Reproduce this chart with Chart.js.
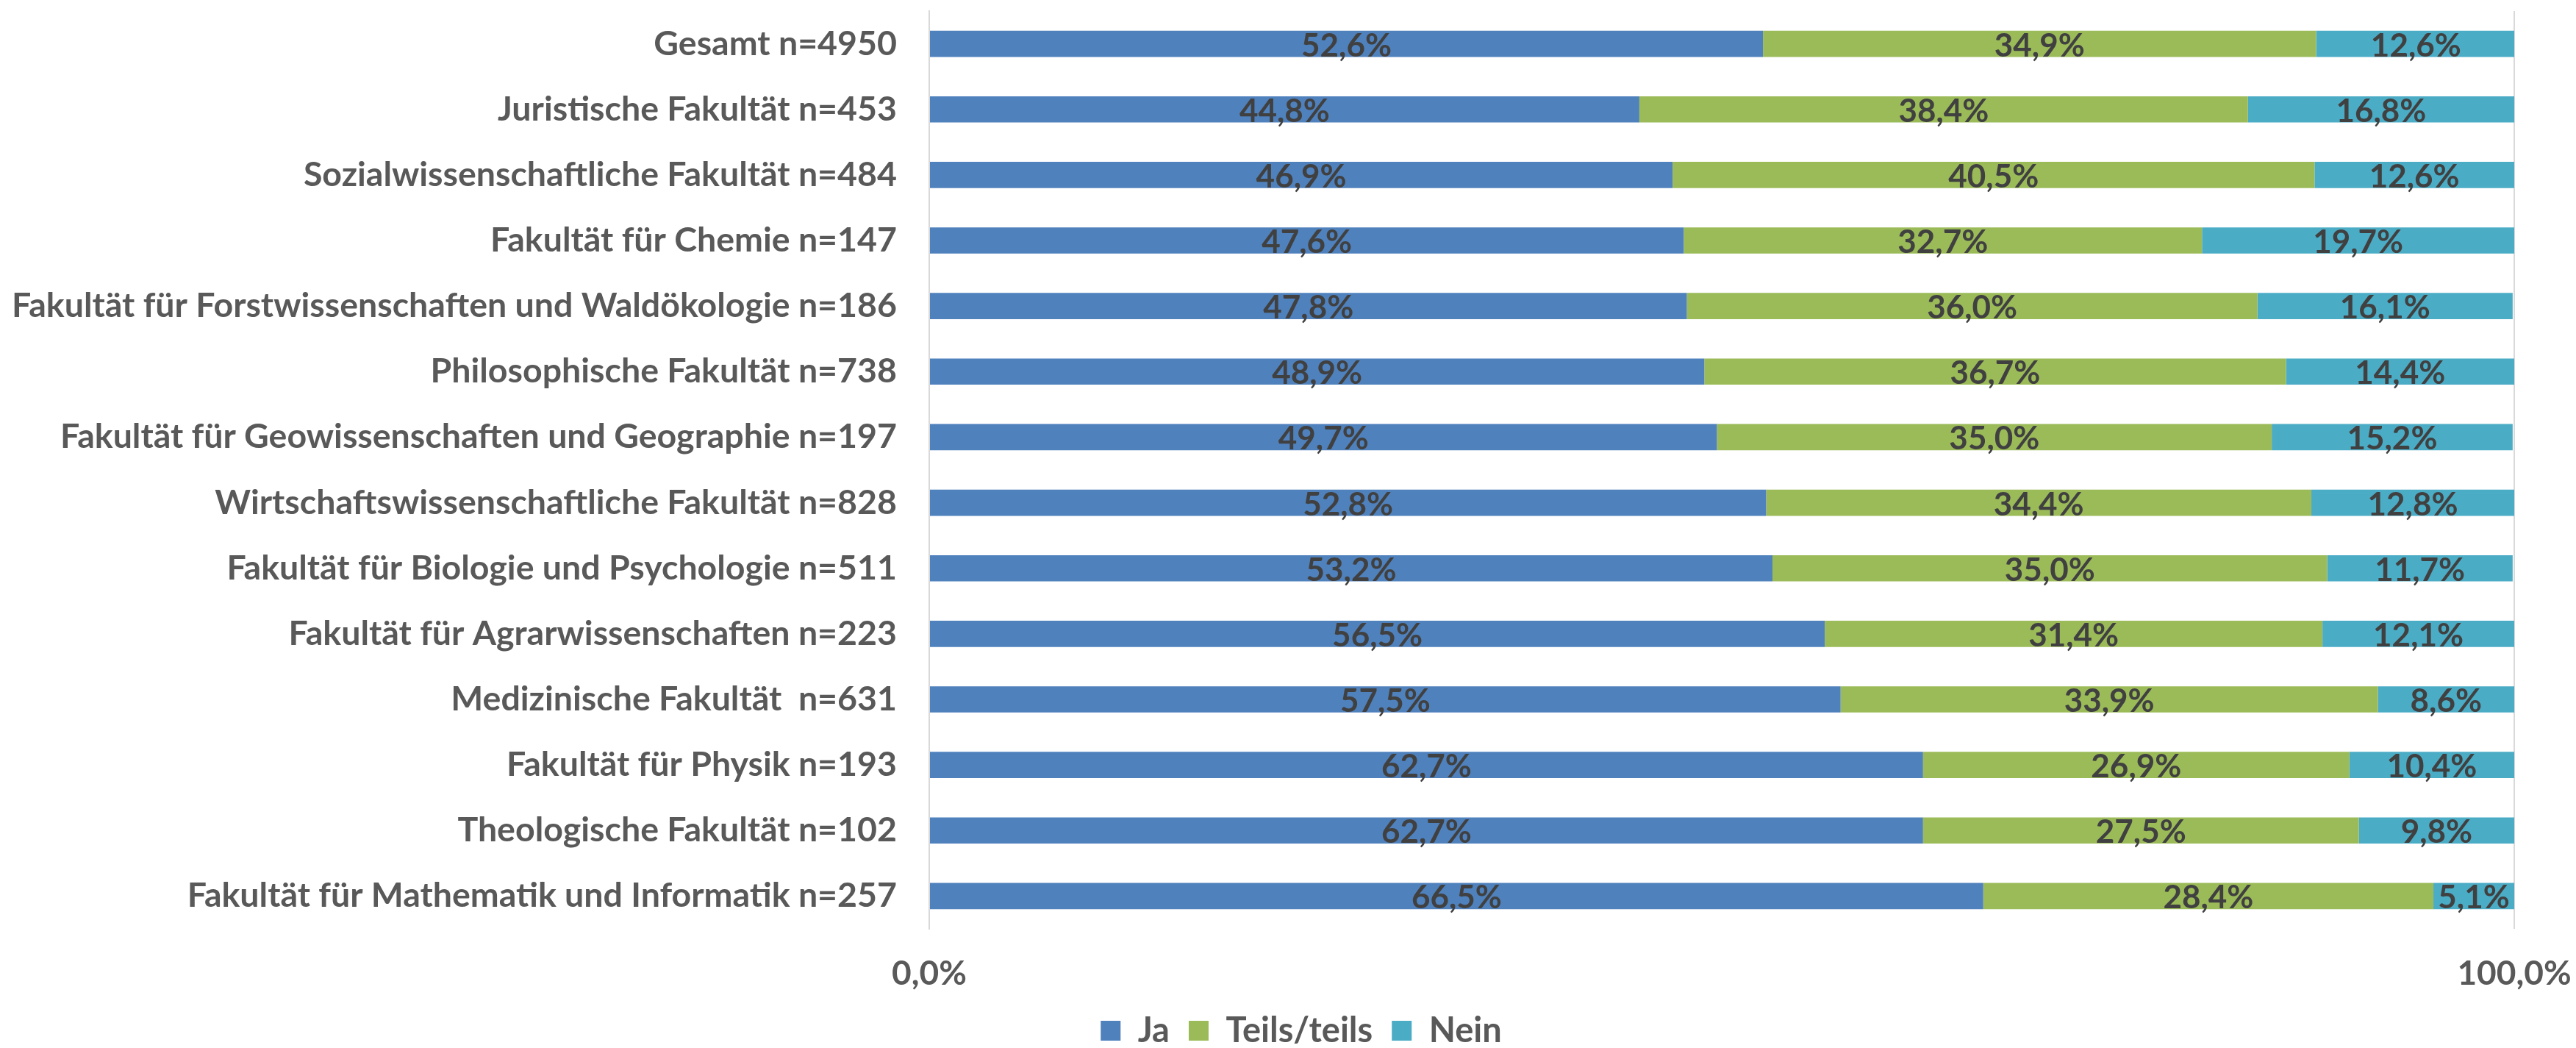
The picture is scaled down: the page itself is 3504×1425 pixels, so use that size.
<!DOCTYPE html>
<html>
<head>
<meta charset="utf-8">
<script src="https://cdn.jsdelivr.net/npm/chart.js@4.4.1/dist/chart.umd.min.js"></script>
<style>
    html, body { margin: 0; padding: 0; background: #fff; overflow: hidden; }
    #wrap { width: 3504px; height: 1425px; position: relative; }
</style>
</head>
<body>
<div id="wrap"><canvas id="facultyChart"></canvas></div>
<script>
// Zustimmung nach Fakultät (100% gestapelt)

const categories = [
    'Gesamt n=4950',
    'Juristische Fakultät n=453',
    'Sozialwissenschaftliche Fakultät n=484',
    'Fakultät für Chemie n=147',
    'Fakultät für Forstwissenschaften und Waldökologie n=186',
    'Philosophische Fakultät n=738',
    'Fakultät für Geowissenschaften und Geographie n=197',
    'Wirtschaftswissenschaftliche Fakultät n=828',
    'Fakultät für Biologie und Psychologie n=511',
    'Fakultät für Agrarwissenschaften n=223',
    'Medizinische Fakultät  n=631',
    'Fakultät für Physik n=193',
    'Theologische Fakultät n=102',
    'Fakultät für Mathematik und Informatik n=257'
];

const jaValues    = [52.6, 44.8, 46.9, 47.6, 47.8, 48.9, 49.7, 52.8, 53.2, 56.5, 57.5, 62.7, 62.7, 66.5];
const teilsValues = [34.9, 38.4, 40.5, 32.7, 36.0, 36.7, 35.0, 34.4, 35.0, 31.4, 33.9, 26.9, 27.5, 28.4];
const neinValues  = [12.6, 16.8, 12.6, 19.7, 16.1, 14.4, 15.2, 12.8, 11.7, 12.1,  8.6, 10.4,  9.8,  5.1];

const seriesNames = ['Ja', 'Teils/teils', 'Nein'];
const xTicks = [0, 100];

const FONT = 'Lato, "Open Sans", sans-serif';

const fmt = v => v.toFixed(1).replace('.', ',') + '%';

// draws the value in the middle of every segment
const segmentLabels = {
    id: 'segmentLabels',
    afterDatasetsDraw(chart) {
        const ctx = chart.ctx;
        ctx.save();
        ctx.font = 'bold 44px ' + FONT;
        ctx.fillStyle = '#404040';
        ctx.textAlign = 'center';
        ctx.textBaseline = 'alphabetic';
        chart.data.datasets.forEach((ds, i) => {
            const meta = chart.getDatasetMeta(i);
            meta.data.forEach((bar, j) => {
                const cx = (bar.x + bar.base) / 2;
                ctx.fillText(fmt(ds.data[j]), cx, bar.y + 17);
            });
        });
        ctx.restore();
    }
};

// legend sits centred on the whole picture, not on the padded box
const legendShift = {
    id: 'legendShift',
    afterLayout(chart) {
        if (!chart.legend) return;
        chart.legend.left += 51;
        chart.legend.right += 51;
    }
};

new Chart(document.getElementById('facultyChart'), {
    type: 'bar',
    data: {
        labels: categories,
        datasets: [
            { label: seriesNames[0], data: jaValues, backgroundColor: '#4F81BD' },
            { label: seriesNames[1], data: teilsValues, backgroundColor: '#9BBB59' },
            { label: seriesNames[2], data: neinValues, backgroundColor: '#4BACC6' }
        ]
    },
    options: {
        indexAxis: 'y',
        responsive: true,
        maintainAspectRatio: false,
        animation: false,
        barPercentage: 0.4,
        categoryPercentage: 1.0,
        layout: { padding: { top: 15, left: 18, right: 84, bottom: -10 } },
        plugins: {
            tooltip: { enabled: false },
            legend: {
                position: 'bottom',
                labels: {
                    color: '#595959',
                    font: { family: FONT, size: 47, weight: 'bold' },
                    boxWidth: 27,
                    boxHeight: 27,
                    padding: 26
                }
            }
        },
        scales: {
            x: {
                stacked: true,
                min: 0,
                max: 100,
                afterBuildTicks: scale => { scale.ticks = xTicks.map(v => ({ value: v })); },
                afterFit: scale => {
                    scale.height = 89;
                    scale.paddingLeft = 0;
                    scale.paddingRight = 0;
                },
                border: { display: false },
                grid: { color: '#D9D9D9', lineWidth: 2, drawTicks: false },
                ticks: {
                    padding: 34,
                    color: '#595959',
                    font: { family: FONT, size: 46, weight: 'bold' },
                    callback: v => fmt(v)
                }
            },
            y: {
                stacked: true,
                afterFit: scale => {
                    scale.width = 1246;
                    scale.paddingTop = 0;
                    scale.paddingBottom = 0;
                },
                border: { display: true, color: '#D9D9D9', width: 2 },
                grid: { display: false, drawTicks: false },
                ticks: {
                    padding: 44,
                    color: '#595959',
                    font: { family: FONT, size: 46.5, weight: 'bold' }
                }
            }
        }
    },
    plugins: [segmentLabels, legendShift]
});
</script>
</body>
</html>
